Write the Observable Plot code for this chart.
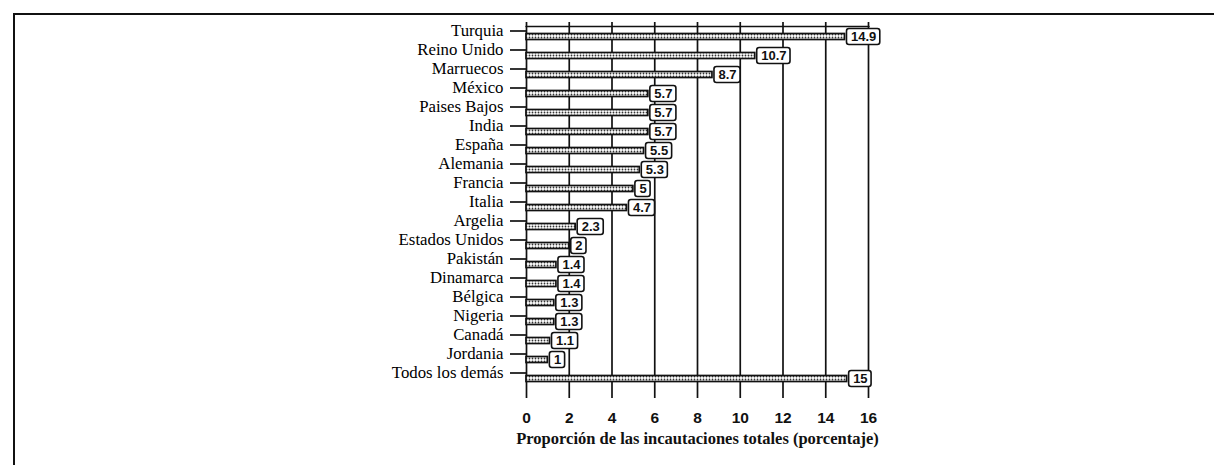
<!DOCTYPE html>
<html><head><meta charset="utf-8">
<script src="https://cdn.jsdelivr.net/npm/d3@7"></script>
<script src="https://cdn.jsdelivr.net/npm/@observablehq/plot@0.6"></script>
<style>
html,body{margin:0;padding:0;background:#fff;}
#wrap{position:relative;width:1214px;height:465px;overflow:hidden;background:#fff;}
#chart{position:absolute;left:0;top:0;}
#border{position:absolute;left:13px;top:13px;width:1300px;height:500px;border-top:2px solid #111;border-left:2px solid #111;}
</style></head><body>
<div id="wrap">
<svg width="0" height="0" style="position:absolute"><defs>
<pattern id="dots" width="3" height="3" patternUnits="userSpaceOnUse">
<rect width="3" height="3" fill="#fff"/><circle cx="1.5" cy="1.5" r="0.9" fill="#333"/>
</pattern></defs></svg>
<div id="chart"></div>
<div id="border"></div>
</div>
<script>
const countries = ["Turquia","Reino Unido","Marruecos","México","Paises Bajos","India","España","Alemania","Francia","Italia","Argelia","Estados Unidos","Pakistán","Dinamarca","Bélgica","Nigeria","Canadá","Jordania","Todos los demás"];
const values = [14.9,10.7,8.7,5.7,5.7,5.7,5.5,5.3,5,4.7,2.3,2,1.4,1.4,1.3,1.3,1.1,1,15];
const xTicks = [0,2,4,6,8,10,12,14,16];
const xLabel = "Proporción de las incautaciones totales (porcentaje)";

const data = countries.map((name, i) => ({name, value: values[i], label: String(values[i])}));

const ctx = document.createElement("canvas").getContext("2d");
ctx.font = "bold 13px 'Liberation Sans'";
const lengths = [...new Set(data.map(d => d.label.length))];
const boxMarks = lengths.map(n => {
  const sub = data.filter(d => d.label.length === n);
  const w = Math.max(...sub.map(d => ctx.measureText(d.label).width)) + 8;
  return Plot.barX(sub, {x1: "value", x2: "value", y: "name", insetLeft: 2, insetRight: -(2 + w),
    insetTop: 1.5, insetBottom: 1.5, rx: 2.5, fill: "white", stroke: "#111", strokeWidth: 1.6});
});

const chart = Plot.plot({
  width: 1214, height: 465,
  marginLeft: 526, marginRight: 346, marginTop: 26, marginBottom: 77,
  x: {domain: [0, 16]},
  y: {domain: countries, padding: 0},
  style: {fontFamily: "Liberation Serif", color: "#111", background: "transparent", overflow: "visible"},
  marks: [
    Plot.gridX(xTicks, {stroke: "#111", strokeOpacity: 1, strokeWidth: 1.7}),
    Plot.frame({anchor: "top", stroke: "#111", strokeWidth: 1.7}),
    Plot.barX(data, {x: "value", y: "name", fill: "url(#dots)", stroke: "#111", strokeWidth: 1.7, insetTop: 6.5, insetBottom: 6.5}),
    ...boxMarks,
    Plot.text(data, {x: "value", y: "name", text: "label", textAnchor: "start", dx: 6,
      fontFamily: "Liberation Sans", fontWeight: "bold", fontSize: 13, fill: "#111"}),
    Plot.axisX(xTicks, {anchor: "top", tickSize: 5, tickFormat: () => "", label: null, strokeWidth: 1.7}),
    Plot.axisX(xTicks, {anchor: "bottom", tickSize: 10, tickPadding: 13, fontSize: 15.5, fontWeight: "bold",
      fontFamily: "Liberation Sans", label: null, strokeWidth: 1.7, fill: "#111"}),
    Plot.axisY({tickSize: 16, tickPadding: 7, fontSize: 16.8, label: null, dy: -6, strokeWidth: 1.7, fill: "#000"}),
    Plot.text([xLabel], {frameAnchor: "bottom", dy: 50, fontFamily: "Liberation Serif", fontWeight: "bold",
      fontSize: 16.5, lineAnchor: "middle", fill: "#111"})
  ]
});
document.getElementById("chart").appendChild(chart);
</script>
</body></html>
